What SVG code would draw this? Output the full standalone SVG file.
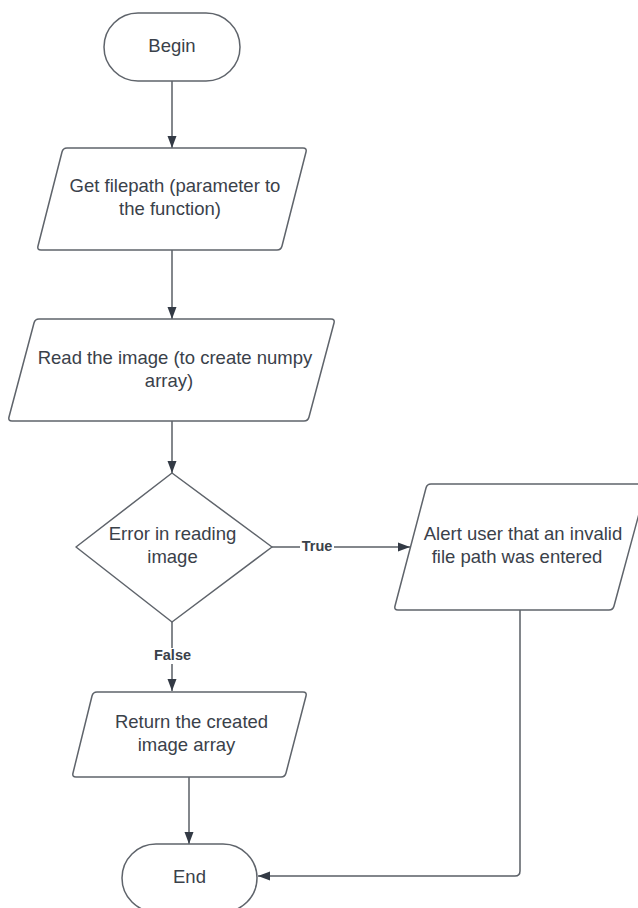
<svg xmlns="http://www.w3.org/2000/svg" width="638" height="908" viewBox="0 0 638 908">
<style>
.shape{fill:#ffffff;stroke:#5f646b;stroke-width:1.5;stroke-linejoin:round}
.t{font-family:"Liberation Sans",Arial,sans-serif;font-size:18.5px;fill:#3a414a;text-anchor:middle}
.lbl{font-family:"Liberation Sans",Arial,sans-serif;font-size:14.5px;font-weight:bold;fill:#3a414a;text-anchor:middle}
.conn{fill:none;stroke:#5a5f66;stroke-width:1.5}
.bg{fill:#ffffff}
</style>
<defs>
<marker id="arr" markerWidth="12" markerHeight="10" refX="12" refY="5" orient="auto" markerUnits="userSpaceOnUse">
<path d="M0,0.5 L12,5 L0,9.5 Z" fill="#333a45"/>
</marker>
</defs>
<rect width="638" height="908" fill="#ffffff"/>
<g id="connectors">
<path class="conn" d="M172,81 V148" marker-end="url(#arr)"/>
<path class="conn" d="M172,250 V319" marker-end="url(#arr)"/>
<path class="conn" d="M172,421 V473" marker-end="url(#arr)"/>
<path class="conn" d="M272,547 H410" marker-end="url(#arr)"/>
<path class="conn" d="M172,622 V691" marker-end="url(#arr)"/>
<path class="conn" d="M189,777 V844" marker-end="url(#arr)"/>
<path class="conn" d="M520,610 V871 Q520,876 515,876 H258" marker-end="url(#arr)"/>
<rect class="bg" x="300" y="539" width="34" height="16"/>
<text class="lbl" x="317" y="551">True</text>
<rect class="bg" x="152" y="648" width="41" height="16"/>
<text class="lbl" x="172.5" y="660">False</text>
</g>
<g id="begin">
<rect class="shape" x="104" y="13" width="136" height="68" rx="34" ry="34"/>
<text class="t" x="172" y="51.5">Begin</text>
</g>
<g id="get-filepath">
<path class="shape" d="M67,148 L303,148 Q307,148 306,152 L282,246 Q281,250 277,250 L41,250 Q37,250 38,246 L62,152 Q63,148 67,148 Z"/>
<text class="t" x="175" y="191.7">Get filepath (parameter to</text>
<text class="t" x="170" y="214.5">the function)</text>
</g>
<g id="read-image">
<path class="shape" d="M39,319 L331,319 Q335,319 334,323 L309,417 Q308,421 304,421 L12,421 Q8,421 9,417 L34,323 Q35,319 39,319 Z"/>
<text class="t" x="175" y="363.5">Read the image (to create numpy</text>
<text class="t" x="169" y="386.5">array)</text>
</g>
<g id="error-check">
<path class="shape" d="M172,473 L272,547 L172,622 L76,547 Z"/>
<text class="t" x="172.5" y="540">Error in reading</text>
<text class="t" x="172.5" y="563">image</text>
</g>
<g id="alert">
<path class="shape" d="M431,484 L643,484 Q647,484 646,488 L614,606 Q613,610 609,610 L398,610 Q394,610 395,606 L426,488 Q427,484 431,484 Z"/>
<text class="t" x="523" y="540">Alert user that an invalid</text>
<text class="t" x="517" y="563">file path was entered</text>
</g>
<g id="return-array">
<path class="shape" d="M97,692 L303,692 Q307,692 306,696 L286,773 Q285,777 281,777 L76,777 Q72,777 73,773 L92,696 Q93,692 97,692 Z"/>
<text class="t" x="191.5" y="728">Return the created</text>
<text class="t" x="186.5" y="751">image array</text>
</g>
<g id="end">
<rect class="shape" x="122" y="844" width="135" height="68" rx="34" ry="34"/>
<text class="t" x="189.5" y="882.7">End</text>
</g>
</svg>
